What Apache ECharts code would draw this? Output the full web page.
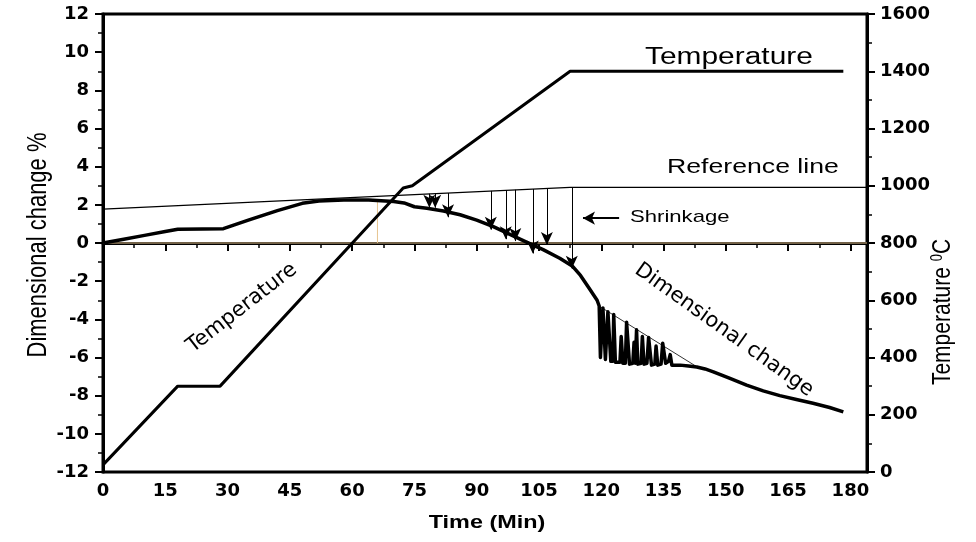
<!DOCTYPE html>
<html>
<head>
<meta charset="utf-8">
<script src="https://cdn.jsdelivr.net/npm/echarts@6/dist/echarts.min.js"></script>
<style>
  html, body { margin: 0; padding: 0; background: #fff; }
  #chart { width: 976px; height: 542px; }
</style>
</head>
<body>
<div id="chart"></div>
<script>
// Dilatometer run: dimensional change (%) and furnace temperature vs time (min)

// Dimensional change curve
const dimTime = [0, 5, 10, 15, 18, 24, 29, 35, 42, 48, 52, 58, 64, 70, 72.5, 75, 78, 82, 86, 90, 94, 98, 102, 106, 110, 113, 115, 117, 119,
  119.5, 119.8, 120.2, 120.4, 120.8, 121.0, 121.4, 121.6, 122.0, 122.3, 122.8, 123.0, 123.4, 124.5, 124.8, 125.2, 125.8,
  126.1, 126.5, 126.8, 127.6, 127.9, 128.2, 128.5, 128.8, 129.6, 129.9, 130.3, 131.0, 131.4, 131.8, 132.1, 132.9,
  133.2, 133.6, 134.4, 134.8, 135.1, 135.5, 136.2, 136.6, 137.0,
  139, 141, 143, 145, 147, 151, 155, 159, 163, 167, 171, 175, 178.3];
const dimValue = [0, 0.2, 0.4, 0.6, 0.72, 0.74, 0.75, 1.2, 1.7, 2.08, 2.2, 2.25, 2.25, 2.18, 2.1, 1.9, 1.82, 1.68, 1.48, 1.2, 0.86, 0.45, 0.05, -0.35, -0.8, -1.2, -1.7, -2.35, -3.0,
  -3.3, -6.0, -6.0, -3.4, -3.45, -6.1, -6.1, -3.6, -3.65, -6.2, -6.2, -3.75, -6.25, -6.25, -4.9, -6.3, -6.3,
  -4.15, -4.2, -6.35, -6.3, -5.2, -6.3, -4.55, -6.35, -6.3, -4.9, -6.35, -6.3, -4.95, -5.0, -6.4, -6.35,
  -5.4, -6.4, -6.35, -5.25, -5.3, -6.3, -6.2, -5.85, -6.4,
  -6.4, -6.45, -6.5, -6.6, -6.75, -7.1, -7.45, -7.75, -8.0, -8.2, -8.4, -8.62, -8.85];

// Temperature programme (°C)
const tempTime = [0, 18, 28.2, 72.3, 74.5, 112.5, 178.3];
const tempValue = [25, 300, 300, 992, 1000, 1400, 1400];

// Reference line for shrinkage
const refTime = [0, 112.5, 184];
const refValue = [1.78, 2.92, 2.92];

// Thin trend line over the oscillating segment
const trendTime = [119.8, 143.5];
const trendValue = [-3.35, -6.55];

// Shrinkage arrows: time, start (on reference line), tip
const arrowTime = [78.6, 80.0, 83.1, 93.4, 97.0, 99.3, 103.5, 106.9, 112.9];
const arrowTop = [2.58, 2.59, 2.62, 2.73, 2.76, 2.79, 2.83, 2.86, 2.92];
const arrowTip = [1.85, 1.85, 1.35, 0.7, 0.2, 0.1, -0.55, -0.1, -1.35];

// Guide lines (zero level and marker)
const zeroLine = [[0, 0], [184, 0]];
const markerLine = [[66.1, 0], [66.1, 2.25]];

// "Shrinkage" pointer
const pointerFrom = [124.3, 1.3];
const pointerTo = [115.6, 1.3];

const zip = (a, b) => a.map((v, i) => [v, b[i]]);

const tickFont = { fontFamily: 'DejaVu Sans', fontWeight: 'bold', fontSize: 18, color: '#000' };
const axisCommon = {
  splitLine: { show: false },
  axisLine: { show: true, lineStyle: { color: '#000', width: 3 } },
  axisTick: { show: true, inside: false, length: 8, lineStyle: { color: '#000', width: 2 } },
  minorTick: { show: true, splitNumber: 2, length: 5, lineStyle: { color: '#000', width: 1.5 } },
  minorSplitLine: { show: false }
};

const shrinkArrows = arrowTime.map((t, i) => [
  { coord: [t, arrowTop[i]] },
  { coord: [t, arrowTip[i]] }
]);

const chart = echarts.init(document.getElementById('chart'));
chart.setOption({
  animation: false,
  backgroundColor: '#fff',
  grid: { left: 103, right: 109, top: 14, bottom: 70, show: true, borderColor: '#000', borderWidth: 3 },
  xAxis: Object.assign({
    type: 'value', min: 0, max: 184, interval: 15,
    axisLabel: Object.assign({ margin: 10, showMaxLabel: false }, tickFont)
  }, axisCommon),
  yAxis: [
    Object.assign({
      type: 'value', min: -12, max: 12, interval: 2, position: 'left',
      axisLabel: Object.assign({ margin: 14 }, tickFont)
    }, axisCommon),
    Object.assign({
      type: 'value', min: 0, max: 1600, interval: 200, position: 'right',
      axisLabel: Object.assign({ margin: 13, formatter: v => String(v) }, tickFont)
    }, axisCommon)
  ],
  series: [
    {
      type: 'line', data: zeroLine, yAxisIndex: 0, showSymbol: false, silent: true,
      lineStyle: { color: '#e6c490', width: 1 }
    },
    {
      type: 'line', data: markerLine, yAxisIndex: 0, showSymbol: false, silent: true,
      lineStyle: { color: '#e6c490', width: 1 }
    },
    {
      type: 'line', data: zip(refTime, refValue), yAxisIndex: 0, showSymbol: false,
      lineStyle: { color: '#000', width: 1.2 }
    },
    {
      type: 'line', data: zip(trendTime, trendValue), yAxisIndex: 0, showSymbol: false,
      lineStyle: { color: '#000', width: 0.8 }
    },
    {
      type: 'line', data: zip(tempTime, tempValue), yAxisIndex: 1, showSymbol: false,
      lineStyle: { color: '#000', width: 3 }
    },
    {
      type: 'line', data: zip(dimTime, dimValue), yAxisIndex: 0, showSymbol: false,
      lineStyle: { color: '#000', width: 3.5, join: 'round' },
      markLine: {
        silent: true, animation: false,
        symbol: ['none', 'arrow'], symbolSize: [9, 13],
        label: { show: false },
        lineStyle: { color: '#000', width: 1, type: 'solid' },
        data: shrinkArrows
      }
    },
    {
      type: 'line', data: [], yAxisIndex: 0,
      markLine: {
        silent: true, animation: false,
        symbol: ['none', 'arrow'], symbolSize: [10, 12],
        label: { show: false },
        lineStyle: { color: '#000', width: 1.8, type: 'solid' },
        data: [[{ coord: pointerFrom }, { coord: pointerTo }]]
      }
    }
  ],
  graphic: [
    { type: 'text', x: 38, y: 245, rotation: Math.PI / 2, scaleY: 1.25,
      style: { text: 'Dimensional change %', font: '22px "Liberation Sans"', fill: '#000', align: 'center', verticalAlign: 'middle' } },
    { type: 'text', x: 487, y: 523, scaleX: 1.3,
      style: { text: 'Time (Min)', font: 'bold 18px "Liberation Sans"', fill: '#000', align: 'center', verticalAlign: 'middle' } },
    { type: 'text', x: 943, y: 312, rotation: Math.PI / 2, scaleY: 1.25,
      style: { text: '{a|Temperature }{s|0}{a|C}', fill: '#000', align: 'center', verticalAlign: 'middle',
        rich: { a: { font: '21px "Liberation Sans"', fill: '#000' }, s: { font: '13px "Liberation Sans"', fill: '#000', verticalAlign: 'top' } } } },
    { type: 'text', x: 645, y: 58, scaleX: 1.3,
      style: { text: 'Temperature', font: '23px "Liberation Sans"', fill: '#000', align: 'left', verticalAlign: 'middle' } },
    { type: 'text', x: 667, y: 167, scaleX: 1.3,
      style: { text: 'Reference line', font: '20.5px "Liberation Sans"', fill: '#000', align: 'left', verticalAlign: 'middle' } },
    { type: 'text', x: 630, y: 217, scaleX: 1.3,
      style: { text: 'Shrinkage', font: '17px "Liberation Sans"', fill: '#000', align: 'left', verticalAlign: 'middle' } },
    { type: 'text', x: 724, y: 330, rotation: -0.62,
      style: { text: 'Dimensional change', font: '21px "DejaVu Sans"', fill: '#000', align: 'center', verticalAlign: 'middle' } },
    { type: 'text', x: 242, y: 308, rotation: 0.66,
      style: { text: 'Temperature', font: '21px "DejaVu Sans"', fill: '#000', align: 'center', verticalAlign: 'middle' } }
  ]
});
</script>
</body>
</html>
